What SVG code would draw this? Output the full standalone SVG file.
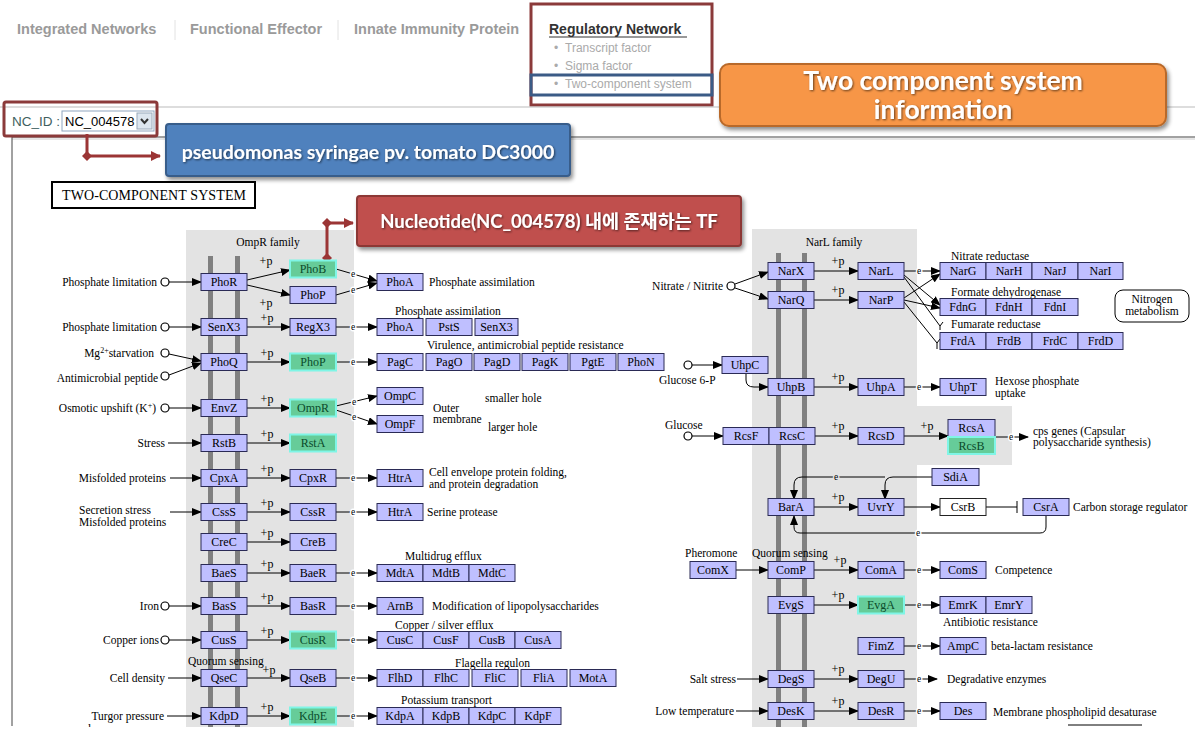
<svg xmlns="http://www.w3.org/2000/svg" width="1200" height="739" viewBox="0 0 1200 739">
<style>
.b{fill:#bfbfff;stroke:#2a2a55;stroke-width:1}
.g{fill:#66cc99;stroke:#7ff5e6;stroke-width:2}
.w{fill:#fff;stroke:#222;stroke-width:1}
.bt{font-family:"Liberation Serif",serif;font-size:12px;text-anchor:middle;fill:#000}
.gt{font-family:"Liberation Serif",serif;font-size:12px;text-anchor:middle;fill:#0a4a2a}
.lb{font-family:"Liberation Serif",serif;font-size:11.5px;fill:#000}
.r{text-anchor:end}
.m{text-anchor:middle}
.e{font-family:"Liberation Serif",serif;font-size:9.5px;text-anchor:middle;fill:#000;paint-order:stroke;stroke:#fff;stroke-width:3px}
.eg{stroke:#e3e3e3}
.p{font-family:"Liberation Serif",serif;font-size:12px;text-anchor:middle;fill:#000}
.ln{stroke:#000;stroke-width:1;fill:none}
.la{stroke:#000;stroke-width:1;fill:none;marker-end:url(#a)}
.c{fill:#fff;stroke:#000;stroke-width:1.2}
.tab{font-family:"Liberation Sans",Arial,sans-serif;font-size:14.5px;font-weight:bold;fill:#9a9a9a}
.sub{font-family:"Liberation Sans",Arial,sans-serif;font-size:12px;fill:#aaaaaa}
.co{font-family:Lato,"Noto Sans CJK KR",sans-serif;font-weight:bold;fill:#fff;text-anchor:middle}
.panel{fill:#e3e3e3}
.bar{fill:#808080}
</style>
<defs>
<marker id="a" markerWidth="10" markerHeight="8" refX="9" refY="4" orient="auto" markerUnits="userSpaceOnUse"><path d="M0,0L10,4L0,8z" fill="#000"/></marker>
<marker id="ra" markerWidth="10" markerHeight="10" refX="9" refY="5" orient="auto" markerUnits="userSpaceOnUse"><path d="M0,0L10,5L0,10z" fill="#9b3535"/></marker>
<filter id="sh" x="-10%" y="-20%" width="120%" height="150%"><feGaussianBlur in="SourceAlpha" stdDeviation="2"/><feOffset dx="2" dy="3"/><feComponentTransfer><feFuncA type="linear" slope="0.45"/></feComponentTransfer><feMerge><feMergeNode/><feMergeNode in="SourceGraphic"/></feMerge></filter>
<filter id="ts" x="-5%" y="-20%" width="110%" height="140%"><feGaussianBlur in="SourceAlpha" stdDeviation="1"/><feOffset dx="1" dy="1"/><feComponentTransfer><feFuncA type="linear" slope="0.6"/></feComponentTransfer><feMerge><feMergeNode/><feMergeNode in="SourceGraphic"/></feMerge></filter>
<clipPath id="cf"><rect x="0" y="0" width="1200" height="727"/></clipPath>
</defs>
<rect width="1200" height="739" fill="#fff"/>

<!-- header -->
<g id="header">
<text class="tab" x="17" y="34">Integrated Networks</text>
<line x1="175" y1="20" x2="175" y2="40" stroke="#e2e2e2"/>
<text class="tab" x="190" y="34">Functional Effector</text>
<line x1="338" y1="20" x2="338" y2="40" stroke="#e2e2e2"/>
<text class="tab" x="354" y="34">Innate Immunity Protein</text>
<text x="549" y="34" font-family="Liberation Sans,Arial,sans-serif" font-size="14" font-weight="bold" fill="#333">Regulatory Network</text>
<line x1="549" y1="37" x2="687" y2="37" stroke="#333" stroke-width="1"/>
<text class="sub" x="554" y="52">• <tspan x="565">Transcript factor</tspan></text>
<text class="sub" x="554" y="70">• <tspan x="565">Sigma factor</tspan></text>
<text class="sub" x="554" y="88">• <tspan x="565">Two-component system</tspan></text>
<rect x="531" y="4" width="181" height="101" fill="none" stroke="#8b3a3a" stroke-width="3"/>
<rect x="531" y="75" width="181" height="20" fill="none" stroke="#3b5b86" stroke-width="3"/>
<line x1="0" y1="107" x2="1195" y2="107" stroke="#bbb"/>
<line x1="12" y1="137" x2="1195" y2="137" stroke="#444"/>
<line x1="12" y1="139" x2="1195" y2="139" stroke="#ccc"/>
<line x1="12" y1="137" x2="12" y2="726" stroke="#444"/>
</g>

<g id="nc-select">
<text x="12" y="126" font-family="Liberation Sans,Arial,sans-serif" font-size="13.5" fill="#3f5f60">NC_ID :</text>
<rect x="62" y="111" width="92" height="20" fill="#fff" stroke="#8fa6bf"/>
<text x="65" y="126" font-family="Liberation Sans,Arial,sans-serif" font-size="13" fill="#000">NC_004578</text>
<rect x="137" y="113" width="15" height="16" fill="#dde6ef" stroke="#9aaabb"/>
<path d="M141,119L144.5,123L148,119" fill="none" stroke="#333" stroke-width="2"/>
<rect x="4" y="102" width="153" height="34" fill="none" stroke="#8b3a3a" stroke-width="3" rx="2"/>
</g>

<g id="callout-organism">
<path d="M87,134V156H160" fill="none" stroke="#9b3535" stroke-width="3" marker-end="url(#ra)"/>
<path d="M87,151L92,156L87,161L82,156z" fill="#9b3535"/>
<rect x="166" y="124" width="404" height="52" rx="3" fill="#4f81bd" stroke="#385d8a" stroke-width="2" filter="url(#sh)"/>
<text class="co" x="368" y="159" font-size="19.5" filter="url(#ts)">pseudomonas syringae pv. tomato DC3000</text>
</g>

<g id="callout-info">
<rect x="720" y="64" width="446" height="62" rx="9" fill="#f79646" stroke="#b8692a" stroke-width="2" filter="url(#sh)"/>
<text class="co" x="943" y="90" font-size="26.5" filter="url(#ts)">Two component system</text>
<text class="co" x="943" y="119" font-size="26.5" filter="url(#ts)">information</text>
</g>

<g id="title">
<rect x="52" y="182" width="203" height="26" fill="#fff" stroke="#000" stroke-width="2"/>
<text x="62" y="200" font-family="Liberation Serif,serif" font-size="14" textLength="184" lengthAdjust="spacing">TWO-COMPONENT  SYSTEM</text>
</g>

<!-- panels -->
<g id="panels">
<rect class="panel" x="186" y="230" width="168" height="497"/>
<rect class="bar" x="208" y="256" width="5" height="471"/>
<rect class="bar" x="235" y="256" width="5" height="471"/>
<rect class="panel" x="752" y="229" width="165" height="498"/>
<rect class="panel" x="917" y="406" width="95" height="59"/>
<rect class="bar" x="776" y="253" width="5" height="474"/>
<rect class="bar" x="802" y="253" width="5" height="474"/>
<text class="lb m" x="268" y="246">OmpR family</text>
<text class="lb m" x="834" y="246">NarL family</text>
</g>

<g id="callout-tf">
<path d="M327,258V223H353" fill="none" stroke="#9b3535" stroke-width="3" marker-end="url(#ra)"/>
<path d="M327,218L332,223L327,228L322,223z" fill="#9b3535"/>
<path d="M327,253L332,258L327,263L322,258z" fill="#9b3535"/>
<rect x="357" y="196" width="384" height="50" rx="3" fill="#c0504d" stroke="#8c3836" stroke-width="2" filter="url(#sh)"/>
<text class="co" x="549" y="228" font-size="18.5" filter="url(#ts)">Nucleotide(NC_004578) 내에 존재하는 TF</text>
</g>

<!-- labels -->
<g id="labels">
<text class="lb r" x="157" y="286">Phosphate limitation</text>
<text class="lb r" x="157" y="331">Phosphate limitation</text>
<text class="lb r" x="154" y="357">Mg<tspan font-size="8" dy="-4">2+</tspan><tspan dy="4">starvation</tspan></text>
<text class="lb r" x="158" y="382">Antimicrobial peptide</text>
<text class="lb r" x="156" y="412">Osmotic upshift (K<tspan font-size="8" dy="-4">+</tspan><tspan dy="4">)</tspan></text>
<text class="lb r" x="165" y="447">Stress</text>
<text class="lb r" x="166" y="482">Misfolded proteins</text>
<text class="lb" x="79" y="514">Secretion stress</text>
<text class="lb" x="79" y="526">Misfolded proteins</text>
<text class="lb r" x="159" y="610">Iron</text>
<text class="lb r" x="159" y="644">Copper ions</text>
<text class="lb r" x="165" y="682">Cell density</text>
<text class="lb r" x="164" y="720">Turgor pressure</text>
<text class="lb" x="88" y="733" clip-path="url(#cf)">low</text>
<text class="lb" x="188" y="665">Quorum sensing</text>
<text class="lb" x="429" y="286">Phosphate assimilation</text>
<text class="lb" x="395" y="315">Phosphate assimilation</text>
<text class="lb" x="427" y="349">Virulence, antimicrobial peptide resistance</text>
<text class="lb" x="433" y="412">Outer</text>
<text class="lb" x="433" y="423">membrane</text>
<text class="lb" x="485" y="402">smaller hole</text>
<text class="lb" x="488" y="431">larger hole</text>
<text class="lb" x="429" y="476">Cell envelope protein folding,</text>
<text class="lb" x="429" y="488">and protein degradation</text>
<text class="lb" x="427" y="516">Serine protease</text>
<text class="lb" x="405" y="560">Multidrug efflux</text>
<text class="lb" x="432" y="610">Modification of lipopolysaccharides</text>
<text class="lb" x="395" y="629">Copper / silver efflux</text>
<text class="lb" x="455" y="667">Flagella regulon</text>
<text class="lb" x="401" y="704">Potassium transport</text>
<text class="lb r" x="723" y="290">Nitrate / Nitrite</text>
<text class="lb" x="951" y="260">Nitrate reductase</text>
<text class="lb" x="951" y="296">Formate dehydrogenase</text>
<text class="lb" x="951" y="328">Fumarate reductase</text>
<text class="lb" x="659" y="384">Glucose 6-P</text>
<text class="lb" x="995" y="385">Hexose phosphate</text>
<text class="lb" x="995" y="397">uptake</text>
<text class="lb" x="665" y="429">Glucose</text>
<text class="lb" x="1033" y="435">cps genes (Capsular</text>
<text class="lb" x="1033" y="446">polysaccharide synthesis)</text>
<text class="lb" x="1073" y="511">Carbon storage regulator</text>
<text class="lb" x="685" y="557">Pheromone</text>
<text class="lb" x="752" y="557">Quorum sensing</text>
<text class="lb" x="995" y="574">Competence</text>
<text class="lb" x="943" y="626">Antibiotic resistance</text>
<text class="lb" x="991" y="650">beta-lactam resistance</text>
<text class="lb r" x="736" y="683">Salt stress</text>
<text class="lb" x="947" y="683">Degradative enzymes</text>
<text class="lb r" x="734" y="715">Low temperature</text>
<text class="lb" x="993" y="716">Membrane phospholipid desaturase</text>
</g>

<!-- connectors -->
<g id="connectors">
<circle class="c" cx="165" cy="282" r="4"/><line class="la" x1="169" y1="282" x2="201" y2="282"/>
<circle class="c" cx="165" cy="327" r="4"/><line class="la" x1="169" y1="327" x2="201" y2="327"/>
<circle class="c" cx="165" cy="353" r="4"/><line class="la" x1="169" y1="354" x2="201" y2="361"/>
<circle class="c" cx="165" cy="376" r="4"/><line class="la" x1="169" y1="375" x2="201" y2="363"/>
<circle class="c" cx="165" cy="408" r="4"/><line class="la" x1="169" y1="408" x2="201" y2="408"/>
<line class="la" x1="168" y1="443" x2="201" y2="443"/>
<line class="la" x1="170" y1="478" x2="201" y2="478"/>
<line class="la" x1="170" y1="512" x2="201" y2="512"/>
<circle class="c" cx="165" cy="606" r="4"/><line class="la" x1="169" y1="606" x2="201" y2="606"/>
<circle class="c" cx="165" cy="640" r="4"/><line class="la" x1="169" y1="640" x2="201" y2="640"/>
<line class="la" x1="168" y1="678" x2="201" y2="678"/>
<line class="la" x1="167" y1="716" x2="201" y2="716"/>

<line class="la" x1="247" y1="280" x2="290" y2="270"/><text class="p" x="266" y="265">+p</text>
<line class="la" x1="247" y1="285" x2="290" y2="295"/><text class="p" x="266" y="307">+p</text>
<line class="la" x1="247" y1="327" x2="290" y2="327"/><text class="p" x="267" y="322">+p</text>
<line class="la" x1="247" y1="362" x2="290" y2="362"/><text class="p" x="267" y="357">+p</text>
<line class="la" x1="247" y1="408" x2="290" y2="408"/><text class="p" x="267" y="403">+p</text>
<line class="la" x1="247" y1="443" x2="290" y2="443"/><text class="p" x="267" y="438">+p</text>
<line class="la" x1="247" y1="478" x2="290" y2="478"/><text class="p" x="267" y="473">+p</text>
<line class="la" x1="247" y1="512" x2="290" y2="512"/><text class="p" x="267" y="507">+p</text>
<line class="la" x1="247" y1="542" x2="290" y2="542"/><text class="p" x="267" y="537">+p</text>
<line class="la" x1="247" y1="573" x2="290" y2="573"/><text class="p" x="267" y="568">+p</text>
<line class="la" x1="247" y1="606" x2="290" y2="606"/><text class="p" x="267" y="601">+p</text>
<line class="la" x1="247" y1="640" x2="290" y2="640"/><text class="p" x="267" y="635">+p</text>
<line class="la" x1="247" y1="678" x2="290" y2="678"/><text class="p" x="269" y="674">+p</text>
<line class="la" x1="247" y1="716" x2="290" y2="716"/><text class="p" x="267" y="711">+p</text>

<line class="la" x1="336" y1="269" x2="377" y2="281"/><text class="e" x="353" y="277">e</text>
<line class="la" x1="336" y1="295" x2="377" y2="283"/><text class="e" x="353" y="293">e</text>
<line class="la" x1="336" y1="327" x2="377" y2="327"/><text class="e" x="353" y="330">e</text>
<line class="la" x1="336" y1="362" x2="377" y2="362"/><text class="e" x="353" y="365">e</text>
<line class="la" x1="336" y1="406" x2="377" y2="396"/><text class="e" x="354" y="405">e</text>
<line class="la" x1="336" y1="410" x2="377" y2="424"/><text class="e" x="354" y="420">e</text>
<line class="la" x1="336" y1="478" x2="377" y2="478"/><text class="e" x="353" y="481">e</text>
<line class="la" x1="336" y1="512" x2="377" y2="512"/><text class="e" x="353" y="515">e</text>
<line class="la" x1="336" y1="573" x2="377" y2="573"/><text class="e" x="353" y="576">e</text>
<line class="la" x1="336" y1="606" x2="377" y2="606"/><text class="e" x="353" y="609">e</text>
<line class="la" x1="336" y1="640" x2="377" y2="640"/><text class="e" x="353" y="643">e</text>
<line class="la" x1="336" y1="678" x2="377" y2="678"/><text class="e" x="353" y="681">e</text>
<line class="la" x1="336" y1="716" x2="377" y2="716"/><text class="e" x="353" y="719">e</text>

<circle class="c" cx="731" cy="286" r="4"/>
<line class="la" x1="735" y1="284" x2="768" y2="272"/>
<line class="la" x1="735" y1="288" x2="768" y2="299"/>
<line class="la" x1="814" y1="271" x2="858" y2="271"/><text class="p" x="838" y="265">+p</text>
<line class="la" x1="814" y1="300" x2="858" y2="300"/><text class="p" x="838" y="294">+p</text>
<line class="la" x1="904" y1="271" x2="940" y2="271"/><text class="e" x="919" y="274">e</text>
<line class="la" x1="904" y1="275" x2="940" y2="305"/>
<line class="ln" x1="904" y1="277" x2="940" y2="326"/>
<path class="ln" d="M940,326l3,-4M940,326v4"/>
<line class="la" x1="904" y1="298" x2="940" y2="274"/>
<line class="la" x1="904" y1="300" x2="940" y2="308"/>
<line class="ln" x1="904" y1="302" x2="937" y2="343"/>
<path class="ln" d="M937,343l3,-4M937,343v6"/>

<circle class="c" cx="688" cy="365" r="4"/><line class="la" x1="692" y1="365" x2="722" y2="365"/>
<path class="la" d="M746,373V380Q746,387 754,387H768"/>
<line class="la" x1="814" y1="387" x2="858" y2="387"/><text class="p" x="838" y="381">+p</text>
<line class="la" x1="904" y1="387" x2="940" y2="387"/><text class="e" x="919" y="390">e</text>
<circle class="c" cx="688" cy="436" r="4"/><line class="la" x1="692" y1="436" x2="723" y2="436"/>
<line class="la" x1="815" y1="436" x2="858" y2="436"/><text class="p" x="838" y="430">+p</text>
<line class="la" x1="904" y1="436" x2="948" y2="436"/><text class="p" x="927" y="430">+p</text>
<line class="la" x1="995" y1="437" x2="1028" y2="437"/><text class="e" x="1011" y="440">e</text>

<path class="la" d="M932,477H893Q885,477 885,485V499"/>
<path class="la" d="M885,477H802Q794,477 794,485V499"/><text class="e eg" x="836" y="480">e</text>
<line class="la" x1="814" y1="507" x2="858" y2="507"/><text class="p" x="838" y="501">+p</text>
<line class="la" x1="904" y1="507" x2="940" y2="507"/>
<line class="ln" x1="986" y1="507" x2="1017" y2="507"/><line class="ln" x1="1017" y1="501" x2="1017" y2="513"/>
<path class="la" d="M1046,516V527Q1046,533 1040,533H800Q794,533 794,527V516"/><text class="e" x="918" y="536">e</text>

<line class="la" x1="736" y1="570" x2="768" y2="570"/>
<line class="la" x1="814" y1="570" x2="858" y2="570"/><text class="p" x="840" y="564">+p</text>
<line class="la" x1="904" y1="570" x2="940" y2="570"/><text class="e" x="919" y="573">e</text>
<line class="la" x1="814" y1="605" x2="858" y2="605"/><text class="p" x="838" y="599">+p</text>
<line class="la" x1="904" y1="605" x2="940" y2="605"/><text class="e" x="919" y="608">e</text>
<line class="la" x1="904" y1="646" x2="940" y2="646"/><text class="e" x="919" y="649">e</text>
<line class="la" x1="737" y1="679" x2="768" y2="679"/>
<line class="la" x1="814" y1="679" x2="858" y2="679"/><text class="p" x="838" y="673">+p</text>
<line class="la" x1="904" y1="679" x2="937" y2="679"/><text class="e" x="919" y="682">e</text>
<line class="la" x1="736" y1="711" x2="768" y2="711"/>
<line class="la" x1="814" y1="711" x2="858" y2="711"/><text class="p" x="838" y="705">+p</text>
<line class="la" x1="904" y1="711" x2="940" y2="711"/><text class="e" x="919" y="714">e</text>
<line class="ln" x1="1068" y1="725" x2="1142" y2="725"/>
</g>

<!-- nodes: left sensors -->
<g id="n-PhoR"><rect class="b" x="201" y="273.5" width="46" height="17"/><text class="bt" x="224" y="286">PhoR</text></g>
<g id="n-SenX3"><rect class="b" x="201" y="318.5" width="46" height="17"/><text class="bt" x="224" y="331">SenX3</text></g>
<g id="n-PhoQ"><rect class="b" x="201" y="353.5" width="46" height="17"/><text class="bt" x="224" y="366">PhoQ</text></g>
<g id="n-EnvZ"><rect class="b" x="201" y="399.5" width="46" height="17"/><text class="bt" x="224" y="412">EnvZ</text></g>
<g id="n-RstB"><rect class="b" x="201" y="434.5" width="46" height="17"/><text class="bt" x="224" y="447">RstB</text></g>
<g id="n-CpxA"><rect class="b" x="201" y="469.5" width="46" height="17"/><text class="bt" x="224" y="482">CpxA</text></g>
<g id="n-CssS"><rect class="b" x="201" y="503.5" width="46" height="17"/><text class="bt" x="224" y="516">CssS</text></g>
<g id="n-CreC"><rect class="b" x="201" y="533.5" width="46" height="17"/><text class="bt" x="224" y="546">CreC</text></g>
<g id="n-BaeS"><rect class="b" x="201" y="564.5" width="46" height="17"/><text class="bt" x="224" y="577">BaeS</text></g>
<g id="n-BasS"><rect class="b" x="201" y="597.5" width="46" height="17"/><text class="bt" x="224" y="610">BasS</text></g>
<g id="n-CusS"><rect class="b" x="201" y="631.5" width="46" height="17"/><text class="bt" x="224" y="644">CusS</text></g>
<g id="n-QseC"><rect class="b" x="201" y="669.5" width="46" height="17"/><text class="bt" x="224" y="682">QseC</text></g>
<g id="n-KdpD"><rect class="b" x="201" y="707.5" width="46" height="17"/><text class="bt" x="224" y="720">KdpD</text></g>

<!-- left regulators -->
<g id="n-PhoB"><rect class="g" x="290" y="260.5" width="46" height="17"/><text class="gt" x="313" y="273">PhoB</text></g>
<g id="n-PhoP1"><rect class="b" x="290" y="286.5" width="46" height="17"/><text class="bt" x="313" y="299">PhoP</text></g>
<g id="n-RegX3"><rect class="b" x="290" y="318.5" width="46" height="17"/><text class="bt" x="313" y="331">RegX3</text></g>
<g id="n-PhoP2"><rect class="g" x="290" y="353.5" width="46" height="17"/><text class="gt" x="313" y="366">PhoP</text></g>
<g id="n-OmpR"><rect class="g" x="290" y="399.5" width="46" height="17"/><text class="gt" x="313" y="412">OmpR</text></g>
<g id="n-RstA"><rect class="g" x="290" y="434.5" width="46" height="17"/><text class="gt" x="313" y="447">RstA</text></g>
<g id="n-CpxR"><rect class="b" x="290" y="469.5" width="46" height="17"/><text class="bt" x="313" y="482">CpxR</text></g>
<g id="n-CssR"><rect class="b" x="290" y="503.5" width="46" height="17"/><text class="bt" x="313" y="516">CssR</text></g>
<g id="n-CreB"><rect class="b" x="290" y="533.5" width="46" height="17"/><text class="bt" x="313" y="546">CreB</text></g>
<g id="n-BaeR"><rect class="b" x="290" y="564.5" width="46" height="17"/><text class="bt" x="313" y="577">BaeR</text></g>
<g id="n-BasR"><rect class="b" x="290" y="597.5" width="46" height="17"/><text class="bt" x="313" y="610">BasR</text></g>
<g id="n-CusR"><rect class="g" x="290" y="631.5" width="46" height="17"/><text class="gt" x="313" y="644">CusR</text></g>
<g id="n-QseB"><rect class="b" x="290" y="669.5" width="46" height="17"/><text class="bt" x="313" y="682">QseB</text></g>
<g id="n-KdpE"><rect class="g" x="290" y="707.5" width="46" height="17"/><text class="gt" x="313" y="720">KdpE</text></g>

<!-- left targets -->
<g id="n-PhoA1"><rect class="b" x="377" y="273.5" width="46" height="17"/><text class="bt" x="400" y="286">PhoA</text></g>
<g id="n-PhoA2"><rect class="b" x="377" y="318.5" width="46" height="17"/><text class="bt" x="400" y="331">PhoA</text></g>
<g id="n-PstS"><rect class="b" x="426" y="318.5" width="46" height="17"/><text class="bt" x="449" y="331">PstS</text></g>
<g id="n-SenX3b"><rect class="b" x="475" y="318.5" width="43" height="17"/><text class="bt" x="496.5" y="331">SenX3</text></g>
<g id="n-PagC"><rect class="b" x="377" y="353.5" width="46" height="17"/><text class="bt" x="400" y="366">PagC</text></g>
<g id="n-PagO"><rect class="b" x="426" y="353.5" width="46" height="17"/><text class="bt" x="449" y="366">PagO</text></g>
<g id="n-PagD"><rect class="b" x="474" y="353.5" width="46" height="17"/><text class="bt" x="497" y="366">PagD</text></g>
<g id="n-PagK"><rect class="b" x="522" y="353.5" width="46" height="17"/><text class="bt" x="545" y="366">PagK</text></g>
<g id="n-PgtE"><rect class="b" x="570" y="353.5" width="46" height="17"/><text class="bt" x="593" y="366">PgtE</text></g>
<g id="n-PhoN"><rect class="b" x="618" y="353.5" width="46" height="17"/><text class="bt" x="641" y="366">PhoN</text></g>
<g id="n-OmpC"><rect class="b" x="377" y="387.5" width="46" height="17"/><text class="bt" x="400" y="400">OmpC</text></g>
<g id="n-OmpF"><rect class="b" x="377" y="415.5" width="46" height="17"/><text class="bt" x="400" y="428">OmpF</text></g>
<g id="n-HtrA1"><rect class="b" x="377" y="469.5" width="46" height="17"/><text class="bt" x="400" y="482">HtrA</text></g>
<g id="n-HtrA2"><rect class="b" x="377" y="503.5" width="46" height="17"/><text class="bt" x="400" y="516">HtrA</text></g>
<g id="n-MdtA"><rect class="b" x="377" y="564.5" width="46" height="17"/><text class="bt" x="400" y="577">MdtA</text></g>
<g id="n-MdtB"><rect class="b" x="423" y="564.5" width="46" height="17"/><text class="bt" x="446" y="577">MdtB</text></g>
<g id="n-MdtC"><rect class="b" x="469" y="564.5" width="46" height="17"/><text class="bt" x="492" y="577">MdtC</text></g>
<g id="n-ArnB"><rect class="b" x="377" y="597.5" width="46" height="17"/><text class="bt" x="400" y="610">ArnB</text></g>
<g id="n-CusC"><rect class="b" x="377" y="631.5" width="46" height="17"/><text class="bt" x="400" y="644">CusC</text></g>
<g id="n-CusF"><rect class="b" x="423" y="631.5" width="46" height="17"/><text class="bt" x="446" y="644">CusF</text></g>
<g id="n-CusB"><rect class="b" x="469" y="631.5" width="46" height="17"/><text class="bt" x="492" y="644">CusB</text></g>
<g id="n-CusA"><rect class="b" x="515" y="631.5" width="46" height="17"/><text class="bt" x="538" y="644">CusA</text></g>
<g id="n-FlhD"><rect class="b" x="377" y="669.5" width="46" height="17"/><text class="bt" x="400" y="682">FlhD</text></g>
<g id="n-FlhC"><rect class="b" x="423" y="669.5" width="46" height="17"/><text class="bt" x="446" y="682">FlhC</text></g>
<g id="n-FliC"><rect class="b" x="472" y="669.5" width="46" height="17"/><text class="bt" x="495" y="682">FliC</text></g>
<g id="n-FliA"><rect class="b" x="521" y="669.5" width="46" height="17"/><text class="bt" x="544" y="682">FliA</text></g>
<g id="n-MotA"><rect class="b" x="570" y="669.5" width="46" height="17"/><text class="bt" x="593" y="682">MotA</text></g>
<g id="n-KdpA"><rect class="b" x="377" y="707.5" width="46" height="17"/><text class="bt" x="400" y="720">KdpA</text></g>
<g id="n-KdpB"><rect class="b" x="423" y="707.5" width="46" height="17"/><text class="bt" x="446" y="720">KdpB</text></g>
<g id="n-KdpC"><rect class="b" x="469" y="707.5" width="46" height="17"/><text class="bt" x="492" y="720">KdpC</text></g>
<g id="n-KdpF"><rect class="b" x="515" y="707.5" width="46" height="17"/><text class="bt" x="538" y="720">KdpF</text></g>

<!-- right side -->
<g id="n-NarX"><rect class="b" x="768" y="262.5" width="46" height="17"/><text class="bt" x="791" y="275">NarX</text></g>
<g id="n-NarQ"><rect class="b" x="768" y="291.5" width="46" height="17"/><text class="bt" x="791" y="304">NarQ</text></g>
<g id="n-NarL"><rect class="b" x="858" y="262.5" width="46" height="17"/><text class="bt" x="881" y="275">NarL</text></g>
<g id="n-NarP"><rect class="b" x="858" y="291.5" width="46" height="17"/><text class="bt" x="881" y="304">NarP</text></g>
<g id="n-NarG"><rect class="b" x="940" y="262.5" width="46" height="17"/><text class="bt" x="963" y="275">NarG</text></g>
<g id="n-NarH"><rect class="b" x="986" y="262.5" width="46" height="17"/><text class="bt" x="1009" y="275">NarH</text></g>
<g id="n-NarJ"><rect class="b" x="1032" y="262.5" width="46" height="17"/><text class="bt" x="1055" y="275">NarJ</text></g>
<g id="n-NarI"><rect class="b" x="1078" y="262.5" width="45" height="17"/><text class="bt" x="1100.5" y="275">NarI</text></g>
<g id="n-FdnG"><rect class="b" x="940" y="298.5" width="46" height="17"/><text class="bt" x="963" y="311">FdnG</text></g>
<g id="n-FdnH"><rect class="b" x="986" y="298.5" width="46" height="17"/><text class="bt" x="1009" y="311">FdnH</text></g>
<g id="n-FdnI"><rect class="b" x="1032" y="298.5" width="46" height="17"/><text class="bt" x="1055" y="311">FdnI</text></g>
<g id="n-FrdA"><rect class="b" x="940" y="332.5" width="46" height="17"/><text class="bt" x="963" y="345">FrdA</text></g>
<g id="n-FrdB"><rect class="b" x="986" y="332.5" width="46" height="17"/><text class="bt" x="1009" y="345">FrdB</text></g>
<g id="n-FrdC"><rect class="b" x="1032" y="332.5" width="46" height="17"/><text class="bt" x="1055" y="345">FrdC</text></g>
<g id="n-FrdD"><rect class="b" x="1078" y="332.5" width="45" height="17"/><text class="bt" x="1100.5" y="345">FrdD</text></g>
<g id="n-NitrogenMetabolism"><rect x="1115" y="290" width="74" height="32" rx="8" fill="#fff" stroke="#000"/><text class="lb m" x="1152" y="303">Nitrogen</text><text class="lb m" x="1152" y="315">metabolism</text></g>
<g id="n-UhpC"><rect class="b" x="722" y="356.5" width="46" height="17"/><text class="bt" x="745" y="369">UhpC</text></g>
<g id="n-UhpB"><rect class="b" x="768" y="378.5" width="46" height="17"/><text class="bt" x="791" y="391">UhpB</text></g>
<g id="n-UhpA"><rect class="b" x="858" y="378.5" width="46" height="17"/><text class="bt" x="881" y="391">UhpA</text></g>
<g id="n-UhpT"><rect class="b" x="940" y="378.5" width="46" height="17"/><text class="bt" x="963" y="391">UhpT</text></g>
<g id="n-RcsF"><rect class="b" x="723" y="427.5" width="46" height="17"/><text class="bt" x="746" y="440">RcsF</text></g>
<g id="n-RcsC"><rect class="b" x="769" y="427.5" width="46" height="17"/><text class="bt" x="792" y="440">RcsC</text></g>
<g id="n-RcsD"><rect class="b" x="858" y="427.5" width="46" height="17"/><text class="bt" x="881" y="440">RcsD</text></g>
<g id="n-RcsA"><rect class="b" x="948" y="419.5" width="47" height="17"/><text class="bt" x="971.5" y="432">RcsA</text></g>
<g id="n-RcsB"><rect class="g" x="948" y="437" width="47" height="17"/><text class="gt" x="971.5" y="449.5">RcsB</text></g>
<g id="n-SdiA"><rect class="b" x="932" y="468.5" width="47" height="17"/><text class="bt" x="955.5" y="481">SdiA</text></g>
<g id="n-BarA"><rect class="b" x="768" y="498.5" width="46" height="17"/><text class="bt" x="791" y="511">BarA</text></g>
<g id="n-UvrY"><rect class="b" x="858" y="498.5" width="46" height="17"/><text class="bt" x="881" y="511">UvrY</text></g>
<g id="n-CsrB"><rect class="w" x="940" y="498.5" width="46" height="17"/><text class="bt" x="963" y="511">CsrB</text></g>
<g id="n-CsrA"><rect class="b" x="1023" y="498.5" width="46" height="17"/><text class="bt" x="1046" y="511">CsrA</text></g>
<g id="n-ComX"><rect class="b" x="690" y="561.5" width="46" height="17"/><text class="bt" x="713" y="574">ComX</text></g>
<g id="n-ComP"><rect class="b" x="768" y="561.5" width="46" height="17"/><text class="bt" x="791" y="574">ComP</text></g>
<g id="n-ComA"><rect class="b" x="858" y="561.5" width="46" height="17"/><text class="bt" x="881" y="574">ComA</text></g>
<g id="n-ComS"><rect class="b" x="940" y="561.5" width="46" height="17"/><text class="bt" x="963" y="574">ComS</text></g>
<g id="n-EvgS"><rect class="b" x="768" y="596.5" width="46" height="17"/><text class="bt" x="791" y="609">EvgS</text></g>
<g id="n-EvgA"><rect class="g" x="858" y="596.5" width="46" height="17"/><text class="gt" x="881" y="609">EvgA</text></g>
<g id="n-EmrK"><rect class="b" x="940" y="596.5" width="46" height="17"/><text class="bt" x="963" y="609">EmrK</text></g>
<g id="n-EmrY"><rect class="b" x="986" y="596.5" width="46" height="17"/><text class="bt" x="1009" y="609">EmrY</text></g>
<g id="n-FimZ"><rect class="b" x="858" y="637.5" width="46" height="17"/><text class="bt" x="881" y="650">FimZ</text></g>
<g id="n-AmpC"><rect class="b" x="940" y="637.5" width="46" height="17"/><text class="bt" x="963" y="650">AmpC</text></g>
<g id="n-DegS"><rect class="b" x="768" y="670.5" width="46" height="17"/><text class="bt" x="791" y="683">DegS</text></g>
<g id="n-DegU"><rect class="b" x="858" y="670.5" width="46" height="17"/><text class="bt" x="881" y="683">DegU</text></g>
<g id="n-DesK"><rect class="b" x="768" y="702.5" width="46" height="17"/><text class="bt" x="791" y="715">DesK</text></g>
<g id="n-DesR"><rect class="b" x="858" y="702.5" width="46" height="17"/><text class="bt" x="881" y="715">DesR</text></g>
<g id="n-Des"><rect class="b" x="940" y="702.5" width="46" height="17"/><text class="bt" x="963" y="715">Des</text></g>
</svg>
